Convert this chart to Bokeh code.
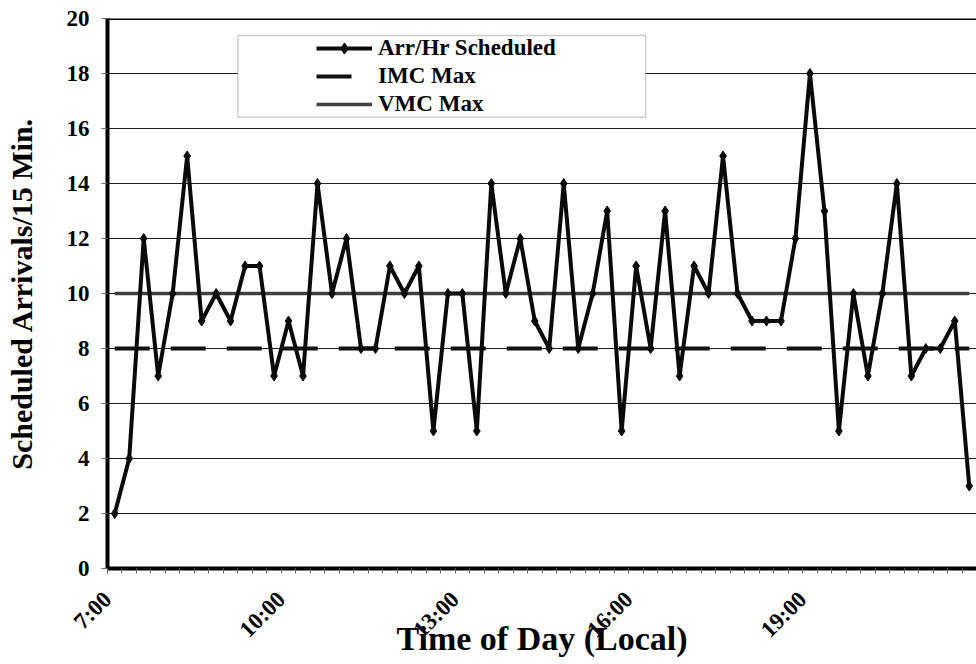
import math
from bokeh.plotting import figure
from bokeh.models import (Range1d, FixedTicker, Legend, LegendItem, LinearAxis,
                          BoxAnnotation, Span, ColumnDataSource)
from bokeh.embed import file_html
from bokeh.resources import INLINE

# ---- data ----
times = ["7:00", "7:15", "7:30", "7:45", "8:00", "8:15", "8:30", "8:45",
         "9:00", "9:15", "9:30", "9:45", "10:00", "10:15", "10:30", "10:45",
         "11:00", "11:15", "11:30", "11:45", "12:00", "12:15", "12:30", "12:45",
         "13:00", "13:15", "13:30", "13:45", "14:00", "14:15", "14:30", "14:45",
         "15:00", "15:15", "15:30", "15:45", "16:00", "16:15", "16:30", "16:45",
         "17:00", "17:15", "17:30", "17:45", "18:00", "18:15", "18:30", "18:45",
         "19:00", "19:15", "19:30", "19:45", "20:00", "20:15", "20:30", "20:45",
         "21:00", "21:15", "21:30", "21:45"]
arrivals = [2, 4, 12, 7, 10, 15, 9, 10, 9, 11,
            11, 7, 9, 7, 14, 10, 12, 8, 8, 11,
            10, 11, 5, 10, 10, 5, 14, 10, 12, 9,
            8, 14, 8, 10, 13, 5, 11, 8, 13, 7,
            11, 10, 15, 10, 9, 9, 9, 12, 18, 13,
            5, 10, 7, 10, 14, 7, 8, 8, 9, 3]
imc_max = 8
vmc_max = 10
label_times = ["7:00", "10:00", "13:00", "16:00", "19:00"]
y_ticks = [0, 2, 4, 6, 8, 10, 12, 14, 16, 18, 20]
series_names = ["Arr/Hr Scheduled", "IMC Max", "VMC Max"]

FONT = "'Liberation Serif', 'Times New Roman', serif"
n = len(times)
idx = list(range(n))
label_idx = [times.index(t) for t in label_times]
LABEL_SHIFT = -0.5   # rotated labels end at the left edge of their category

src = ColumnDataSource(dict(x=idx, t=times, arr=arrivals,
                            imc=[imc_max] * n, vmc=[vmc_max] * n))

p = figure(width=976, height=664, output_backend="svg", toolbar_location=None,
           x_range=Range1d(-0.5, n - 0.5), y_range=Range1d(y_ticks[0], y_ticks[-1]),
           min_border_left=107, min_border_top=18, min_border_right=0,
           min_border_bottom=96)
p.outline_line_color = None
p.background_fill_color = "white"
p.border_fill_color = "white"

# grid
p.xgrid.grid_line_color = None
p.ygrid.ticker = FixedTicker(ticks=y_ticks)
p.ygrid.grid_line_color = "#1e1e1e"
p.ygrid.grid_line_width = 1

# y axis
ya = p.yaxis[0]
ya.ticker = FixedTicker(ticks=y_ticks)
ya.axis_line_color = "black"
ya.axis_line_width = 4
ya.major_tick_out = 6
ya.major_tick_in = 0
ya.major_tick_line_color = "#666666"
ya.minor_tick_line_color = None
ya.major_label_text_font = FONT
ya.major_label_text_font_style = "bold"
ya.major_label_text_font_size = "23px"
ya.major_label_text_color = "black"
ya.major_label_standoff = 12
ya.axis_label = "Scheduled Arrivals/15 Min."
ya.axis_label_text_font = FONT
ya.axis_label_text_font_style = "bold"
ya.axis_label_text_font_size = "30px"
ya.axis_label_text_color = "black"
ya.axis_label_standoff = 26

# main x axis: axis line + tick marks between categories
xa = p.xaxis[0]
xa.ticker = FixedTicker(ticks=[], minor_ticks=[i - 0.5 for i in range(n + 1)])
xa.axis_line_color = "black"
xa.axis_line_width = 4
xa.major_tick_line_color = None
xa.major_tick_out = 5
xa.major_tick_in = 0
xa.minor_tick_line_color = "#666666"
xa.minor_tick_out = 5
xa.minor_tick_in = 0
xa.major_label_text_font_size = "0px"
xa.major_label_standoff = 0

# label axis: rotated time labels + axis title
lab_ticks = [i + LABEL_SHIFT for i in label_idx]
la = LinearAxis(ticker=FixedTicker(ticks=lab_ticks),
                axis_line_color=None, major_tick_line_color=None,
                minor_tick_line_color=None, major_tick_out=0, major_tick_in=0,
                major_label_overrides={v: t for v, t in zip(lab_ticks, label_times)},
                major_label_orientation=math.pi / 4,
                major_label_standoff=22,
                major_label_text_font=FONT, major_label_text_font_style="bold",
                major_label_text_font_size="23px", major_label_text_color="black",
                axis_label="Time of Day (Local)", axis_label_text_font=FONT,
                axis_label_text_font_style="bold", axis_label_text_font_size="34px",
                axis_label_text_color="black", axis_label_standoff=-34)
p.add_layout(la, "below")

# top border of the plot area
p.add_layout(Span(location=y_ticks[-1], dimension="width", line_color="black",
                  line_width=3))

# series
vmc_r = p.line("x", "vmc", source=src, line_color="#404040", line_width=3.5)
imc_r = p.line("x", "imc", source=src, line_color="#111111", line_width=4,
               line_dash="35 21")
arr_l = p.line("x", "arr", source=src, line_color="#0a0a0a", line_width=4)
arr_m = p.scatter("x", "arr", source=src, marker="diamond", size=10,
                  fill_color="#0a0a0a", line_color="#0a0a0a")

# legend box + legend
p.add_layout(BoxAnnotation(left=8.5, right=36.65, bottom=16.41, top=19.38,
                           fill_color="white", fill_alpha=1.0,
                           line_color="#555555", line_width=1.5))
legend = Legend(items=[LegendItem(label=series_names[0], renderers=[arr_l, arr_m]),
                       LegendItem(label=series_names[1], renderers=[imc_r]),
                       LegendItem(label=series_names[2], renderers=[vmc_r])],
                location=(209, 450), padding=0, spacing=0, margin=0,
                glyph_width=56, glyph_height=28, label_height=28,
                label_standoff=6, label_text_font=FONT,
                label_text_font_style="bold", label_text_font_size="23px",
                label_text_color="black",
                border_line_color=None, background_fill_alpha=0)
p.add_layout(legend)

open("out.html", "w").write(file_html(p, INLINE))
